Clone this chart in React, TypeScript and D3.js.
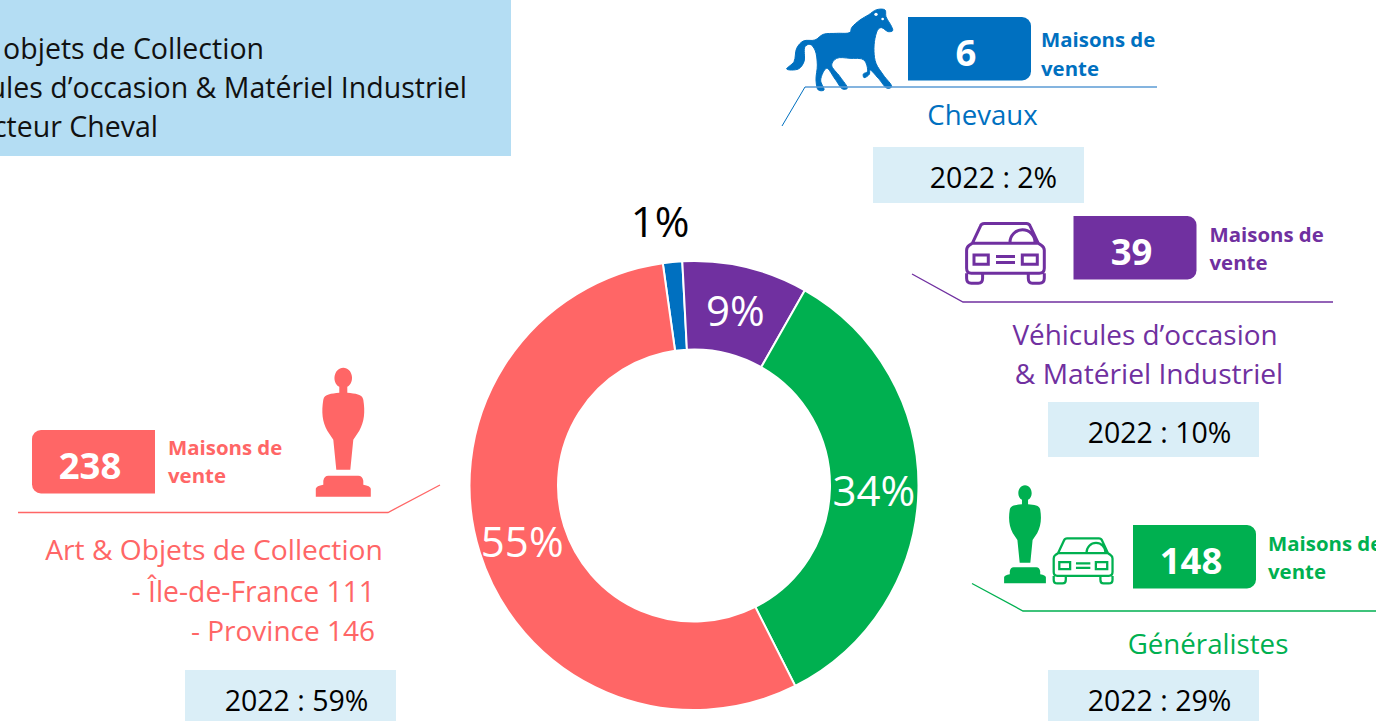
import React from 'react';
import * as d3 from 'd3';

const categories = ['Chevaux', 'Véhicules', 'Généralistes', 'Art'];
const houses = [6, 39, 148, 238];
const shareLabels = ['1%', '9%', '34%', '55%'];
const share2022 = ['2022 : 2%', '2022 : 10%', '2022 : 29%', '2022 : 59%'];
const colors = ['#0070C0', '#7030A0', '#00B050', '#FF6666'];
const legendLines = ['Art & objets de Collection', 'Véhicules d’occasion & Matériel Industriel', 'Secteur Cheval'];

const FONT = '"Open Sans", sans-serif';
const W = 1376;
const H = 721;
const cx = 694;
const cy = 485.5;
const outerR = 224.5;
const innerR = 136;
const start = (-8 * Math.PI) / 180;

const HORSE: [number, number][] = [
  [290, 14], [315, 15], [318, 35], [335, 65], [338, 77], [325, 80], [305, 68], [295, 72], [285, 100], [282, 140],
  [288, 175], [310, 210], [335, 245], [322, 250], [295, 220], [270, 195], [268, 208], [252, 218], [250, 207],
  [262, 200], [252, 165], [210, 160], [170, 160], [155, 180], [180, 215], [202, 250], [188, 252], [165, 222],
  [140, 190], [122, 225], [132, 255], [115, 255], [108, 225], [112, 180], [105, 135], [90, 118], [75, 125],
  [72, 170], [55, 192], [20, 192], [42, 170], [50, 130], [70, 108], [105, 105], [130, 88], [170, 85], [210, 82],
  [215, 68], [240, 45], [265, 30],
];
const STATUE = 'M-4,-110 C-12,-114 -9.5,-129 0,-129 C9.5,-129 12,-114 4,-110 L4,-104 C12,-103 19,-103 20,-97 C22,-85 21,-75 16,-66 L10,-57 L7,-27 H-7 L-10,-57 L-16,-66 C-21,-75 -22,-85 -20,-97 C-19,-103 -12,-103 -4,-104 Z M-27.5,0 L-27.5,-8 Q-27,-11 -20,-12 L-20,-16 Q-19,-21 -15,-21 L15,-21 Q19,-21 20,-16 L20,-12 Q27,-11 27.5,-8 L27.5,0 Z';

// Chemin de la voiture, centré en x, haut à y = 0
const CAR_BODY = 'M-33,21 L-25,4 Q-24,1.3 -21,1.3 L21,1.3 Q24,1.3 25,4 L33,21 M-33,21 L-36,23 Q-38.7,25 -38.7,28 L-38.7,46 Q-38.7,51 -34,51 L34,51 Q39,51 39,46 L39,28 Q39,25 36,23 L33,21 Z M-38.7,51 L-38.7,56 Q-38.7,61 -34,61 L-27,61 Q-22.7,61 -22.7,56 L-22.7,51 M23,51 L23,56 Q23,61 27,61 L34,61 Q39,61 39,56 L39,51 M4.7,20 A12.5,12.5 0 0 1 29.7,20 M-31.3,32.7 H-17 V42 H-31.3 Z M17,32.7 H32 V42 H17 Z M-9.3,34.3 H9.7 M-9.3,40.3 H9.7';

function Car({ x, y, k, color }: { x: number; y: number; k: number; color: string }) {
  return (
    <path
      d={CAR_BODY}
      transform={`translate(${x},${y}) scale(${k})`}
      fill="none"
      stroke={color}
      strokeWidth={3}
    />
  );
}

function Statue({ x, y, k, color }: { x: number; y: number; k: number; color: string }) {
  return <path d={STATUE} transform={`translate(${x},${y}) scale(${k})`} fill={color} />;
}

function Badge({ x, y, value, color, flip, labelDx = 0, labelDy = -4.5, lineGap = 28 }: {
  x: number; y: number; value: number; color: string; flip?: boolean; labelDx?: number; labelDy?: number; lineGap?: number;
}) {
  const w = 123;
  const h = 63.5;
  const r = 9;
  const p = d3.path();
  if (flip) {
    p.moveTo(x + r, y);
    p.lineTo(x + w, y);
    p.lineTo(x + w, y + h);
    p.lineTo(x + r, y + h);
    p.arcTo(x, y + h, x, y + h - r, r);
    p.lineTo(x, y + r);
    p.arcTo(x, y, x + r, y, r);
  } else {
    p.moveTo(x, y);
    p.lineTo(x + w - r, y);
    p.arcTo(x + w, y, x + w, y + r, r);
    p.lineTo(x + w, y + h - r);
    p.arcTo(x + w, y + h, x + w - r, y + h, r);
    p.lineTo(x, y + h);
  }
  p.closePath();
  const lx = x + w + (flip ? 13 : 11) + labelDx;
  return (
    <g>
      <path d={p.toString()} fill={color} />
      <text x={x + w / 2 - 3.5} y={y + 48.5} textAnchor="middle" fill="#fff" fontSize={36.5} fontWeight={700}>
        {value}
      </text>
      <text x={lx} y={y + 30 + labelDy} fill={color} fontSize={20.4} fontWeight={700}>
        Maisons de
      </text>
      <text x={lx} y={y + 30 + labelDy + lineGap} fill={color} fontSize={20.4} fontWeight={700}>
        vente
      </text>
    </g>
  );
}

function Box2022({ x, y, h, label, textDx = 111.5 }: { x: number; y: number; h: number; label: string; textDx?: number }) {
  return (
    <g>
      <rect x={x} y={y} width={211} height={h} fill="#DAEEF7" />
      <text x={x + textDx} y={y + 40.5} textAnchor="middle" fill="#000" fontSize={28.5}>
        {label}
      </text>
    </g>
  );
}

export default function App() {
  const pie = d3.pie<number>().sort(null).startAngle(start).endAngle(start + 2 * Math.PI);
  const arcs = pie(houses);
  const arc = d3.arc<d3.PieArcDatum<number>>().innerRadius(innerR).outerRadius(outerR);
  const labelArc = d3.arc<d3.PieArcDatum<number>>().innerRadius(180).outerRadius(180);
  const line = d3.line();
  const horsePath = d3.line().curve(d3.curveCatmullRomClosed.alpha(0.5))(HORSE) ?? '';

  return (
    <svg
      width={W}
      height={H}
      viewBox={`0 0 ${W} ${H}`}
      fontFamily={FONT}
      style={{ position: 'absolute', left: 0, top: 0, background: '#fff' }}
    >
      <rect x={0} y={0} width={511} height={156} fill="#B4DDF3" />
      {legendLines.map((t, i) => (
        <text key={t} x={[264, 467, 158][i]} y={[59, 98, 136.5][i]} textAnchor="end" fontSize={28.5} fill="#111">
          {t}
        </text>
      ))}

      <g transform={`translate(${cx},${cy})`}>
        {arcs.map((a, i) => (
          <path key={categories[i]} d={arc(a) ?? ''} fill={colors[i]} stroke="#fff" strokeWidth={2} />
        ))}
        {arcs.map((a, i) => {
          const [x, y] = labelArc.centroid(a);
          if (i === 0) {
            return (
              <text key={i} x={-34} y={-249} textAnchor="middle" fontSize={42} fill="#000">
                {shareLabels[i]}
              </text>
            );
          }
          return (
            <text key={i} x={x} y={y + (i === 3 ? 18 : 16)} textAnchor="middle" fontSize={42} fill="#fff">
              {shareLabels[i]}
            </text>
          );
        })}
      </g>

      {/* Chevaux */}
      <g transform="translate(780,5) scale(0.3333)">
        <path d={horsePath} fill={colors[0]} stroke={colors[0]} strokeWidth={3} />
        <circle cx={288} cy={28} r={5} fill="#fff" />
        <circle cx={308} cy={42} r={4} fill="#fff" />
      </g>
      <Badge x={908} y={17} value={houses[0]} color={colors[0]} labelDx={-1} labelDy={0} lineGap={29} />
      <path d={line([[805, 87], [1157, 87]]) ?? ''} stroke="#5B9BD5" strokeWidth={1.6} fill="none" />
      <path d={line([[782, 126], [805, 87]]) ?? ''} stroke={colors[0]} strokeWidth={1} fill="none" />
      <text x={982.5} y={125} textAnchor="middle" fontSize={27.6} fill={colors[0]}>Chevaux</text>
      <Box2022 x={873} y={147} h={56} label={share2022[0]} textDx={120.5} />

      {/* Véhicules */}
      <Car x={1005.3} y={222.3} k={1} color={colors[1]} />
      <Badge x={1073.5} y={216} value={houses[1]} color={colors[1]} labelDx={2} />
      <path d={line([[912, 274], [963, 302], [1333, 302]]) ?? ''} stroke={colors[1]} strokeWidth={1.3} fill="none" />
      <text x={1145} y={345} textAnchor="middle" fontSize={27.9} fill={colors[1]}>Véhicules d’occasion</text>
      <text x={1149} y={384} textAnchor="middle" fontSize={28.2} fill={colors[1]}>&amp; Matériel Industriel</text>
      <Box2022 x={1048} y={402} h={55} label={share2022[1]} />

      {/* Généralistes */}
      <Statue x={1025} y={583.3} k={0.76} color={colors[2]} />
      <Car x={1083} y={537.3} k={0.757} color={colors[2]} />
      <Badge x={1133} y={525} value={houses[2]} color={colors[2]} labelDx={1} />
      <path d={line([[972, 583.5], [1023, 611], [1376, 611]]) ?? ''} stroke={colors[2]} strokeWidth={1.3} fill="none" />
      <text x={1208} y={654} textAnchor="middle" fontSize={27.7} fill={colors[2]}>Généralistes</text>
      <Box2022 x={1048} y={670} h={51} label={share2022[2]} />

      {/* Art */}
      <Badge x={32} y={430} value={houses[3]} color={colors[3]} flip labelDy={-5.5} />
      <Statue x={343.3} y={496.7} k={1} color={colors[3]} />
      <path d={line([[18, 512.5], [388, 512.5], [440, 485]]) ?? ''} stroke={colors[3]} strokeWidth={1.3} fill="none" />
      <text x={214} y={560} textAnchor="middle" fontSize={28.2} fill={colors[3]}>Art &amp; Objets de Collection</text>
      <text x={375} y={602} textAnchor="end" fontSize={28.3} fill={colors[3]}>- Île-de-France 111</text>
      <text x={375} y={641} textAnchor="end" fontSize={28} fill={colors[3]}>- Province 146</text>
      <Box2022 x={185} y={670} h={51} label={share2022[3]} />
    </svg>
  );
}
